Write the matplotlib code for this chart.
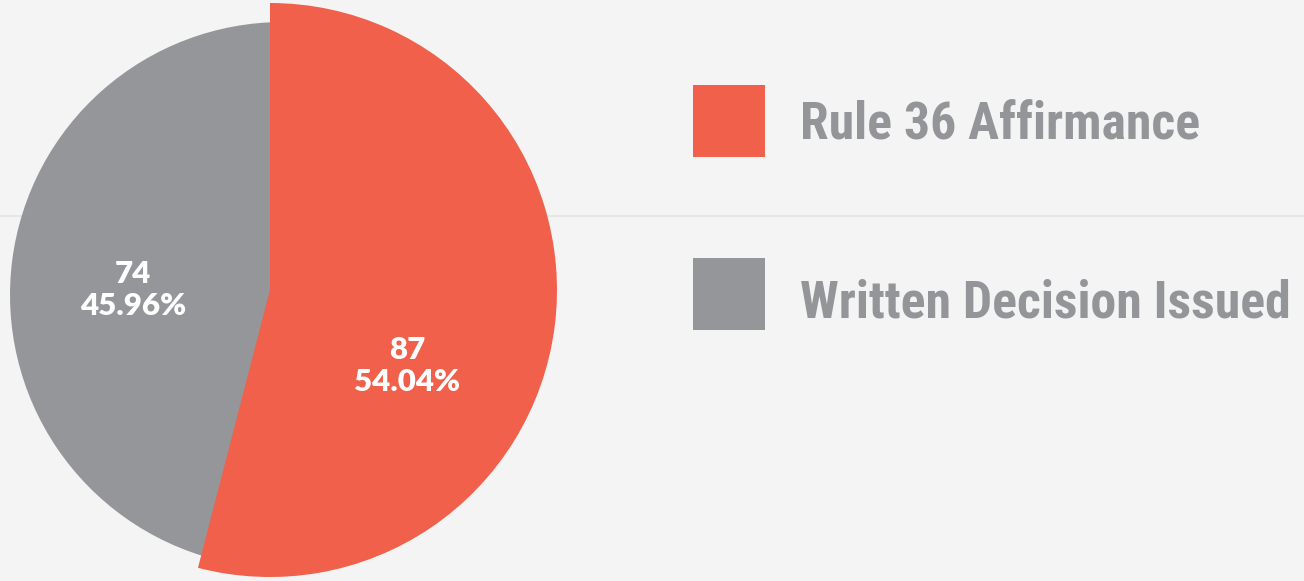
"""
Rule 36 affirmance vs written decision (pie)
"""
import matplotlib
matplotlib.use("Agg")
import matplotlib.pyplot as plt
from matplotlib.patches import Rectangle
from matplotlib import font_manager

# ==========================
# data
# ==========================
labels = ["Rule 36 Affirmance", "Written Decision Issued"]
counts = [87, 74]
colors = ["#f0604a", "#959699"]

# ==========================
# layout (pixels, y up)
# ==========================
W, H = 1304, 581
bg = "#f4f4f4"
text_gray = "#939598"

pie_center = (270, 291)
pie_radius = 287
gray_radius = 273
gray_shift = (13, -5)

label_pos = [(407, 215), (133, 291)]

names = {f.name for f in font_manager.fontManager.ttflist}
if "Roboto Condensed" in names:
    legend_font, legend_size, legend_weight = "Roboto Condensed", 37.3, 600
else:
    legend_font, legend_size, legend_weight = "Lato", 34, "bold"

# ==========================
# plot
# ==========================
fig = plt.figure(figsize=(W / 100, H / 100), dpi=100, facecolor=bg)
ax = fig.add_axes([0, 0, 1, 1])
ax.set_facecolor(bg)

# faint divider across the card
ax.axhline(H - 216, color="#e4e4e4", lw=1.2, zorder=0)

total = sum(counts)
wedges, _, autotexts = ax.pie(
    counts,
    colors=colors,
    startangle=90,
    counterclock=False,
    center=pie_center,
    radius=pie_radius,
    autopct=lambda p: f"{round(p * total / 100)}\n{p:.2f}%",
    textprops=dict(color="white", fontsize=22.5, fontweight=800, family=["Lato", "DejaVu Sans"]),
    wedgeprops=dict(linewidth=0),
    frame=True,
)

# grey slice sits a bit smaller, behind the highlighted red one
wedges[1].set_radius(gray_radius)
wedges[1].set_center((pie_center[0] + gray_shift[0], pie_center[1] + gray_shift[1]))
wedges[0].set_zorder(3)
wedges[1].set_zorder(2)

for t, (x, y) in zip(autotexts, label_pos):
    t.set_position((x, y))
    t.set_ha("center")
    t.set_va("center")
    t.set_linespacing(1.15)
    t.set_zorder(5)

# legend
for i, (lab, col) in enumerate(zip(labels, colors)):
    y0 = H - 157 - i * 173
    ax.add_patch(Rectangle((693, y0), 72, 72, facecolor=col, edgecolor="none"))
    ax.text(800, H - 116 - i * 178 - 4, lab, color=text_gray, fontsize=legend_size,
            fontweight=legend_weight, family=[legend_font, "DejaVu Sans"],
            va="center_baseline", ha="left")

ax.set_xlim(0, W)
ax.set_ylim(0, H)
ax.set_aspect("auto")
ax.axis("off")

plt.savefig("out.png", dpi=100, facecolor=bg)
plt.close()
